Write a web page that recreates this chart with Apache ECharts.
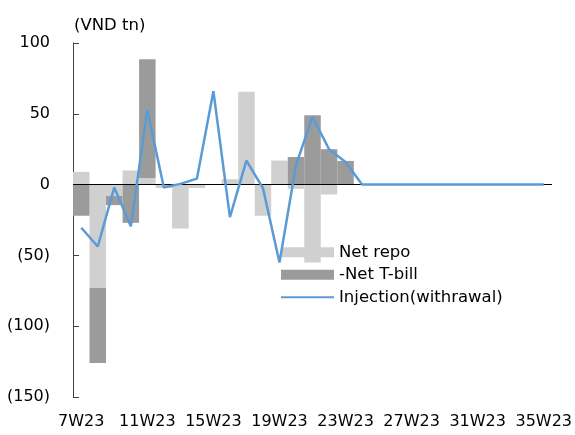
<!DOCTYPE html>
<html>
<head>
<meta charset="utf-8">
<script src="https://cdn.jsdelivr.net/npm/echarts@6/dist/echarts.min.js"></script>
<style>html,body{margin:0;padding:0;background:#fff}#c{width:575px;height:435px}</style>
</head>
<body>
<div id="c"></div>
<script>
const categories = ['7W23','8W23','9W23','10W23','11W23','12W23','13W23','14W23','15W23','16W23','17W23','18W23','19W23','20W23','21W23','22W23','23W23','24W23','25W23','26W23','27W23','28W23','29W23','30W23','31W23','32W23','33W23','34W23','35W23'];
const netRepo = [9, -73, -8, 10, 4.7, -2.4, -31, -2.4, 0, 3.8, 65.6, -22, 17, -3, -55, -7, 0, 0, 0, 0, 0, 0, 0, 0, 0, 0, 0, 0, 0];
const netTbill = [-22, -53, -6.5, -27, 83.8, 0, 0, 0, 0, 0, 0, 0, 0, 19.5, 49, 25, 16.7, 0, 0, 0, 0, 0, 0, 0, 0, 0, 0, 0, 0];
const injection = [-30.5, -43.7, -2, -29.5, 52.7, -2, 0.5, 4.2, 66, -23, 17, -2.5, -55, 13.7, 48, 25, 16, 0, 0, 0, 0, 0, 0, 0, 0, 0, 0, 0, 0];
const yTicks = {min: -150, max: 100, step: 50};

const font = 'DejaVu Sans';
const chart = echarts.init(document.getElementById('c'));
chart.setOption({
  animation: false,
  textStyle: {fontFamily: font},
  title: {text: '(VND tn)', left: 69, top: 12, textStyle: {fontFamily: font, fontSize: 16.5, fontWeight: 'normal', color: '#000'}},
  grid: {left: 73, right: 21, top: 43, bottom: 38},
  legend: {
    orient: 'vertical', left: 280, top: 243, padding: 0,
    itemWidth: 53, itemHeight: 10, itemGap: 4, itemTextGap: 6,
    textStyle: {fontFamily: font, fontSize: 16.5, color: '#000', lineHeight: 18.5},
    data: [
      {name: 'Net repo', icon: 'rect'},
      {name: '-Net T-bill', icon: 'rect'},
      {name: 'Injection(withrawal)', itemStyle: {opacity: 0}}
    ]
  },
  xAxis: {
    type: 'category', data: categories,
    axisLine: {show: false}, axisTick: {show: false},
    axisLabel: {interval: 3, margin: 17, fontSize: 16, color: '#000', fontFamily: font}
  },
  yAxis: {
    type: 'value', min: yTicks.min, max: yTicks.max, interval: yTicks.step,
    axisLine: {show: true, lineStyle: {color: '#404040', width: 1}},
    axisTick: {show: true, inside: true, length: 6, lineStyle: {color: '#404040'}},
    splitLine: {show: false},
    axisLabel: {margin: 23, fontSize: 16, color: '#000', fontFamily: font,
      formatter: v => v < 0 ? '(' + Math.abs(v) + ')' : String(v)}
  },
  series: [
    {name: 'Net repo', type: 'bar', stack: 's', data: netRepo, barCategoryGap: '0%',
     itemStyle: {color: '#d0d0d0'},
     markLine: {silent: true, symbol: 'none', label: {show: false}, lineStyle: {color: '#000', width: 1, type: 'solid'}, data: [{yAxis: 0}]}},
    {name: '-Net T-bill', type: 'bar', stack: 's', data: netTbill, barCategoryGap: '0%',
     itemStyle: {color: '#9b9b9b'}},
    {name: 'Injection(withrawal)', type: 'line', data: injection, symbol: 'none',
     lineStyle: {color: '#5b9bd5', width: 2.5}, itemStyle: {color: '#5b9bd5'}, z: 5}
  ]
});
</script>
</body>
</html>
